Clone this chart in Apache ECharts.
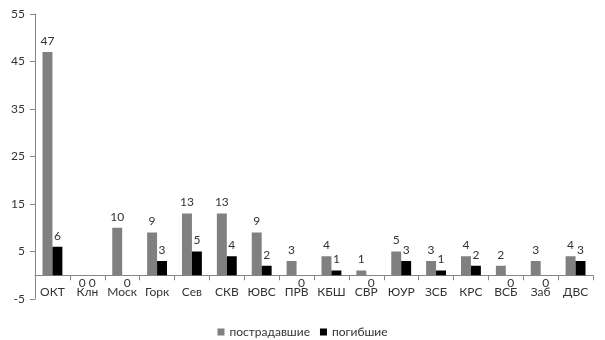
<!DOCTYPE html>
<html><head><meta charset="utf-8">
<script src="https://cdn.jsdelivr.net/npm/echarts@6/dist/echarts.min.js"></script>
<style>html,body{margin:0;padding:0;background:#fff}#c{width:605px;height:340px}</style>
</head><body><div id="c"></div>
<script>
const categories = ['ОКТ','Клн','Моск','Горк','Сев','СКВ','ЮВС','ПРВ','КБШ','СВР','ЮУР','ЗСБ','КРС','ВСБ','Заб','ДВС'];
const injured = [47,0,10,9,13,13,9,3,4,1,5,3,4,2,3,4];
const killed = [6,0,0,3,5,4,2,0,1,0,3,1,2,0,0,3];
const yTicks = [-5,5,15,25,35,45,55];
const seriesNames = ['пострадавшие','погибшие'];

const font = 'Lato, "Open Sans", sans-serif';
const txt = '#333333';
function mk(vals){
  return vals.map(v => v === 0
    ? {value: v, label: {position: 'bottom', distance: 2}}
    : {value: v});
}
const chart = echarts.init(document.getElementById('c'));
chart.setOption({
  animation: false,
  textStyle: {fontFamily: font},
  grid: {left: 35, right: 12, top: 14, bottom: 41},
  legend: {
    top: 321, left: 'center', itemWidth: 7, itemHeight: 7, itemGap: 10,
    icon: 'rect',
    textStyle: {fontFamily: font, fontSize: 12, color: txt},
    data: seriesNames
  },
  xAxis: {
    type: 'category', data: categories,
    axisLine: {onZero: true, lineStyle: {color: '#868686'}},
    axisTick: {show: true, length: 5, lineStyle: {color: '#868686'}},
    axisLabel: {color: txt, fontSize: 12, fontFamily: font, margin: -13, interval: 0}
  },
  yAxis: {
    type: 'value', min: -5, max: 55,
    splitLine: {show: false},
    axisLine: {show: true, lineStyle: {color: '#868686'}},
    axisTick: {show: true, length: 5, customValues: yTicks, lineStyle: {color: '#868686'}},
    axisLabel: {color: txt, fontSize: 12, fontFamily: font, margin: 10, customValues: yTicks}
  },
  series: [
    {name: seriesNames[0], type: 'bar', data: mk(injured), barGap: '0%', barCategoryGap: '43%',
     itemStyle: {color: '#808080'},
     label: {show: true, position: 'top', distance: 5, color: txt, fontSize: 12, fontFamily: font}},
    {name: seriesNames[1], type: 'bar', data: mk(killed),
     itemStyle: {color: '#000000'},
     label: {show: true, position: 'top', distance: 5, color: txt, fontSize: 12, fontFamily: font}}
  ]
});
</script></body></html>
